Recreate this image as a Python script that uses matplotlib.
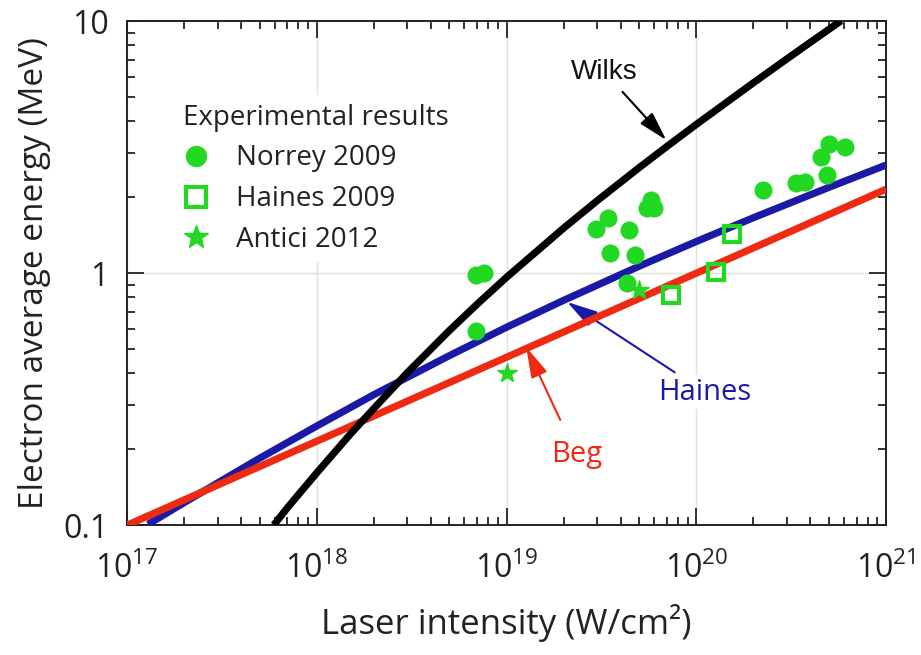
import matplotlib
matplotlib.use('Agg')
import matplotlib.pyplot as plt
from matplotlib.ticker import FixedLocator, LogLocator, NullFormatter

plt.rcParams['font.family'] = ['Open Sans', 'DejaVu Sans']
plt.rcParams['mathtext.fontset'] = 'custom'
plt.rcParams['mathtext.rm'] = 'Open Sans'

# ---------------- data ----------------
wilks_I = [5.94e17, 7e17, 1e18, 1.5e18, 2e18, 3e18, 5e18, 7e18, 1e19, 2e19, 3e19,
           5e19, 7e19, 1e20, 2e20, 3e20, 4e20, 5.8e20]
wilks_E = [0.100, 0.117, 0.161, 0.229, 0.290, 0.402, 0.591, 0.752, 0.961, 1.507, 1.934,
           2.618, 3.177, 3.885, 5.684, 7.068, 8.236, 10.02]

haines_I = [1.29e17, 2e17, 5e17, 1e18, 2e18, 5e18, 1e19, 2e19, 5e19, 1e20, 2e20, 5e20, 1e21]
haines_E = [0.1006, 0.1227, 0.184, 0.247, 0.329, 0.470, 0.609, 0.779, 1.064, 1.333,
            1.657, 2.187, 2.681]

beg_I = [1e17, 1e18, 1e19, 1e20, 1e21]
beg_E = [0.0998, 0.215, 0.463, 0.998, 2.15]

norrey_I = [6.9e18, 7.6e18, 6.9e18, 2.98e19, 3.44e19, 4.44e19, 3.53e19, 4.77e19, 4.33e19,
            5.52e19, 5.80e19, 6.01e19, 2.25e20, 3.36e20, 3.75e20, 4.55e20, 5.01e20,
            6.08e20, 4.89e20]
norrey_E = [0.98, 1.00, 0.59, 1.50, 1.65, 1.48, 1.20, 1.18, 0.91,
            1.81, 1.95, 1.81, 2.13, 2.28, 2.30, 2.89, 3.25,
            3.16, 2.45]

haines09_I = [7.36e19, 1.27e20, 1.54e20]
haines09_E = [0.818, 1.01, 1.43]

antici_I = [1.01e19, 4.97e19]
antici_E = [0.40, 0.857]

xtick_vals = [1e17, 1e18, 1e19, 1e20, 1e21]
xtick_labels = [r'$\mathregular{10^{17}}$', r'$\mathregular{10^{18}}$', r'$\mathregular{10^{19}}$',
                r'$\mathregular{10^{20}}$', r'$\mathregular{10^{21}}$']
ytick_vals = [0.1, 1, 10]
ytick_labels = ['0.1', '1', '10']

# ---------------- styles ----------------
GREEN = '#22d822'
BLUE = '#1a1aa6'
RED = '#ee2a12'
INK = '#222222'

fig = plt.figure(figsize=(9.21, 6.55), dpi=100)
ax = fig.add_axes([127/921, 1-525/655, (886-127)/921, (525-21)/655])
ax.set_xscale('log')
ax.set_yscale('log')
ax.set_xlim(1e17, 1e21)
ax.set_ylim(0.1, 10)

ax.grid(True, which='major', color='#e0e0e0', lw=1.0, zorder=0)
ax.set_axisbelow(True)

ax.plot(haines_I, haines_E, color=BLUE, lw=5.2, solid_capstyle='butt', zorder=3)
ax.plot(beg_I, beg_E, color=RED, lw=5.2, solid_capstyle='butt', zorder=4)
ax.plot(wilks_I, wilks_E, color='black', lw=5.2, solid_capstyle='butt', zorder=5)

ax.plot(norrey_I, norrey_E, 'o', color=GREEN, ms=12, mec=GREEN, ls='none', zorder=6,
        label='Norrey 2009')
ax.plot(haines09_I, haines09_E, 's', mfc='none', mec=GREEN, mew=3, ms=12, ls='none',
        zorder=6, label='Haines 2009')
ax.plot(antici_I, antici_E, '*', color=GREEN, ms=15, ls='none', zorder=6,
        label='Antici 2012')

# annotations
ax.annotate('Wilks', xy=(6.95e19, 3.37), xytext=(3.28e19, 6.28), ha='center', va='center',
            fontsize=20, family=['Liberation Sans', 'DejaVu Sans'], color='#111111',
            arrowprops=dict(arrowstyle='-|>,head_length=0.9,head_width=0.25', color='black',
                            lw=1.5, shrinkA=4, shrinkB=0))
ax.annotate('Haines', xy=(2.09e19, 0.767), xytext=(1.11e20, 0.337), ha='center', va='center',
            fontsize=21, color=BLUE,
            bbox=dict(boxstyle='square,pad=0.1', fc='white', ec='none'),
            arrowprops=dict(arrowstyle='-|>,head_length=0.9,head_width=0.25', color=BLUE,
                            lw=1.5, shrinkA=3, shrinkB=0))
ax.annotate('Beg', xy=(1.27e19, 0.508), xytext=(2.34e19, 0.19), ha='center', va='center',
            fontsize=21, color=RED,
            arrowprops=dict(arrowstyle='-|>,head_length=0.9,head_width=0.25', color=RED,
                            lw=1.5, shrinkA=14, shrinkB=0))

leg = ax.legend(title='Experimental results', loc='upper left',
                bbox_to_anchor=(0.045, 0.88), frameon=True, facecolor='white',
                edgecolor='none', framealpha=1, fontsize=20, title_fontsize=20,
                alignment='left', handlelength=0.9, handletextpad=1.0,
                labelspacing=0.46, borderpad=0.3, markerscale=1.2)
for t in leg.get_texts():
    t.set_color(INK)
leg.get_title().set_color(INK)
leg.set_zorder(2)

# ticks
ax.xaxis.set_major_locator(FixedLocator(xtick_vals))
ax.set_xticklabels(xtick_labels)
ax.yaxis.set_major_locator(FixedLocator(ytick_vals))
ax.set_yticklabels(ytick_labels)
ax.xaxis.set_minor_locator(LogLocator(base=10, subs=range(2, 10), numticks=20))
ax.yaxis.set_minor_locator(LogLocator(base=10, subs=range(2, 10), numticks=20))
ax.xaxis.set_minor_formatter(NullFormatter())
ax.yaxis.set_minor_formatter(NullFormatter())
ax.tick_params(which='both', direction='in', top=True, right=True, width=1.3,
               colors=INK)
ax.tick_params(which='major', length=12, labelsize=23)
ax.tick_params(which='minor', length=6)
ax.tick_params(axis='x', which='major', pad=20)
ax.tick_params(axis='y', which='major', pad=13)
for s in ax.spines.values():
    s.set_linewidth(1.4)
    s.set_color(INK)

ax.set_xlabel('Laser intensity (W/cm²)', fontsize=25, labelpad=13, color=INK)
ax.set_ylabel('Electron average energy (MeV)', fontsize=24, labelpad=9, color=INK)

fig.savefig('out.png', dpi=100)
